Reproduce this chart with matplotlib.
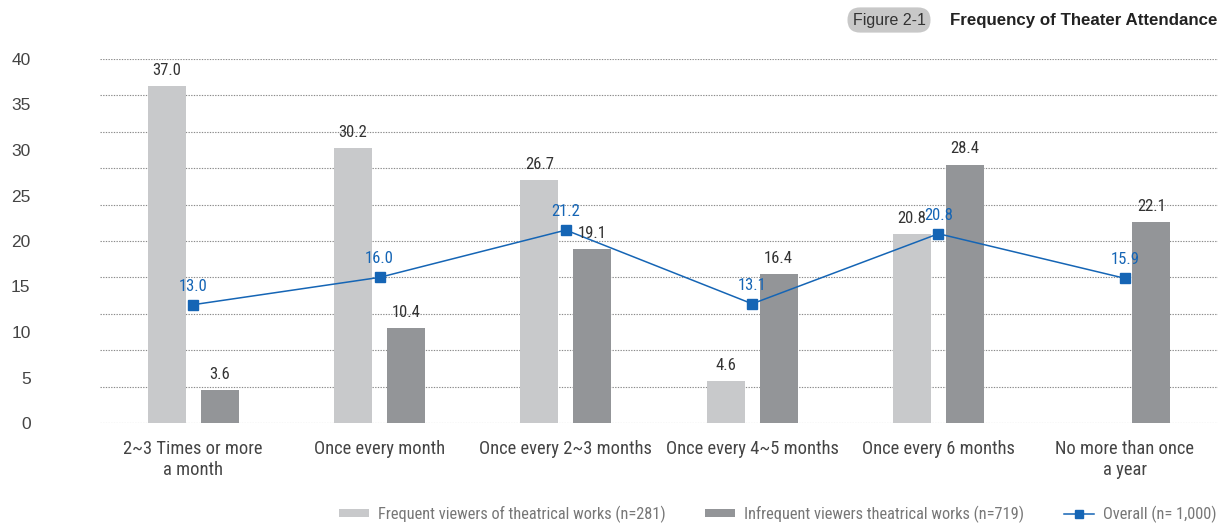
import matplotlib
matplotlib.use("Agg")
import matplotlib.pyplot as plt
from matplotlib.patches import Patch
from matplotlib.lines import Line2D
import numpy as np

categories = ["2~3 Times or more\na month", "Once every month", "Once every 2~3 months",
              "Once every 4~5 months", "Once every 6 months", "No more than once\na year"]
frequent = [37.0, 30.2, 26.7, 4.6, 20.8, None]
infrequent = [3.6, 10.4, 19.1, 16.4, 28.4, 22.1]
overall = [13.0, 16.0, 21.2, 13.1, 20.8, 15.9]
ytick_labels = [0, 5, 10, 15, 20, 25, 30, 35, 40]
grid_levels = [0, 4, 8, 12, 16, 20, 24, 28, 32, 36, 40]

FONT = ["Roboto Condensed", "Liberation Sans Narrow", "DejaVu Sans Condensed", "DejaVu Sans"]
plt.rcParams['font.family'] = FONT

C_LIGHT = "#c8c9cb"
C_DARK = "#939598"
C_BLUE = "#1565b5"
C_TEXT = "#333333"

W, H = 1231, 524
fig = plt.figure(figsize=(W / 100, H / 100), dpi=100)
ax = fig.add_axes([100 / W, 101 / H, 1118 / W, 364 / H])

x = np.arange(len(categories))
bw = 0.205
off = 0.142

for g in grid_levels:
    ax.axhline(g, color="#8a8a8a", lw=0.8, ls=(0, (1.2, 1.2)), zorder=0)

for i, v in enumerate(frequent):
    if v is None:
        continue
    ax.bar(x[i] - off, v, width=bw, color=C_LIGHT, zorder=2)
    ax.text(x[i] - off, v + 0.9, f"{v:.1f}", ha="center", va="bottom", fontsize=12, color=C_TEXT, zorder=5)
for i, v in enumerate(infrequent):
    ax.bar(x[i] + off, v, width=bw, color=C_DARK, zorder=2)
    ax.text(x[i] + off, v + 0.9, f"{v:.1f}", ha="center", va="bottom", fontsize=12, color=C_TEXT, zorder=5)

ax.plot(x, overall, color=C_BLUE, lw=1.1, marker="s", markersize=7, zorder=4)
for i, v in enumerate(overall):
    ax.text(x[i], v + 1.2, f"{v:.1f}", ha="center", va="bottom", fontsize=12, color=C_BLUE, zorder=5)

ax.set_xlim(-0.5, len(categories) - 0.5)
ax.set_ylim(0, 40)
ax.set_yticks(ytick_labels)
ax.set_yticklabels([str(t) for t in ytick_labels], fontsize=12.5, color="#444444",
                   family=["Liberation Sans", "DejaVu Sans"])
ax.set_xticks(x)
ax.set_xticklabels(categories, fontsize=13.3, color="#444444", linespacing=1.25)
ax.tick_params(axis="both", length=0)
ax.tick_params(axis="y", pad=50)
ax.tick_params(axis="x", pad=12)
for s in ax.spines.values():
    s.set_visible(False)

# Title
fig.text(1217 / W, 1 - 20 / H, "Frequency of Theater Attendance", ha="right", va="center",
         fontsize=12.2, fontweight="bold", color="#222222", family=["Liberation Sans", "DejaVu Sans"])
fig.text(889 / W, 1 - 20 / H, "Figure 2-1", ha="center", va="center", fontsize=11.5,
         color="#333333", family=["Liberation Sans", "DejaVu Sans"],
         bbox=dict(boxstyle="round,pad=0.32,rounding_size=0.8", fc="#c8c8c8", ec="none"))

# Legend
handles = [Patch(facecolor=C_LIGHT, edgecolor="none"),
           Patch(facecolor=C_DARK, edgecolor="none"),
           Line2D([0], [0], color=C_BLUE, lw=1.1, marker="s", markersize=6)]
labels = ["Frequent viewers of theatrical works (n=281)",
          "Infrequent viewers theatrical works (n=719)",
          "Overall (n= 1,000)"]
leg = fig.legend(handles, labels, loc="center right", bbox_to_anchor=(1231 / W, 1 - 514 / H),
                 ncol=3, frameon=False, fontsize=11.8, handlelength=1.83, handleheight=0.45,
                 columnspacing=2.4, handletextpad=0.55, labelcolor="#777777")

fig.savefig("out.png", dpi=100)
